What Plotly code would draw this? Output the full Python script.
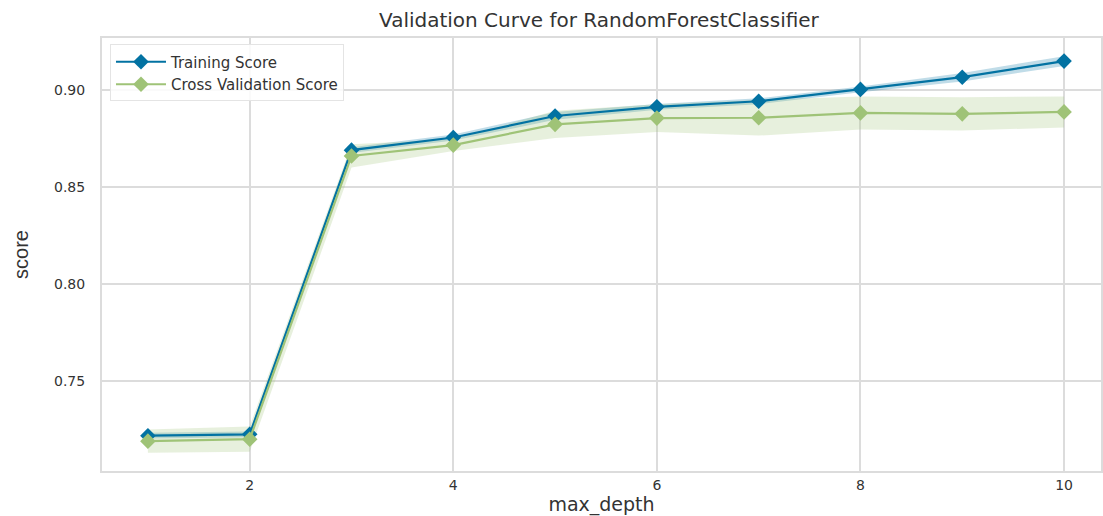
import plotly.graph_objects as go

max_depth = [1, 2, 3, 4, 5, 6, 7, 8, 9, 10]
train_mean = [0.7218, 0.7225, 0.8690, 0.8755, 0.8866, 0.8913, 0.8942, 0.9003, 0.9066, 0.9149]
train_std = [0.0015, 0.0015, 0.0015, 0.0015, 0.0020, 0.0015, 0.0015, 0.0015, 0.0022, 0.0025]
cv_mean = [0.7190, 0.7200, 0.8660, 0.8716, 0.8823, 0.8855, 0.8857, 0.8882, 0.8877, 0.8887]
cv_std = [0.0060, 0.0065, 0.0060, 0.0030, 0.0070, 0.0072, 0.0092, 0.0085, 0.0086, 0.0080]

BLUE = "#0272a2"
GREEN = "#9fc377"
GRID = "#dcdcdc"
TEXT = "#333333"
FONT = "DejaVu Sans, Liberation Sans, sans-serif"

fig = go.Figure()

def band(mean, std, color_rgba):
    upper = [m + s for m, s in zip(mean, std)]
    lower = [m - s for m, s in zip(mean, std)]
    return go.Scatter(
        x=max_depth + max_depth[::-1],
        y=upper + lower[::-1],
        fill="toself", fillcolor=color_rgba,
        line=dict(width=0), mode="lines",
        hoverinfo="skip", showlegend=False,
    )

fig.add_trace(band(train_mean, train_std, "rgba(2,114,162,0.25)"))
fig.add_trace(band(cv_mean, cv_std, "rgba(159,195,119,0.25)"))

fig.add_trace(go.Scatter(
    x=max_depth, y=train_mean, name="Training Score", mode="lines+markers",
    line=dict(color=BLUE, width=2.2),
    marker=dict(symbol="diamond", size=12, color=BLUE),
))
fig.add_trace(go.Scatter(
    x=max_depth, y=cv_mean, name="Cross Validation Score", mode="lines+markers",
    line=dict(color=GREEN, width=2.2),
    marker=dict(symbol="diamond", size=12, color=GREEN),
))

fig.update_layout(
    width=1103, height=516,
    margin=dict(l=102, r=0, t=38, b=45),
    paper_bgcolor="white", plot_bgcolor="white",
    font=dict(family=FONT, color=TEXT),
    showlegend=True,
    legend=dict(
        x=0.008, y=0.985, xanchor="left", yanchor="top",
        bgcolor="rgba(255,255,255,0.85)", bordercolor="#e4e4e4", borderwidth=1,
        font=dict(size=15, color=TEXT, family=FONT),
        tracegroupgap=0, itemwidth=50,
    ),
    annotations=[
        dict(text="Validation Curve for RandomForestClassifier",
             xref="paper", yref="paper", x=(600 - 102) / 1001, y=1.0,
             xanchor="center", yanchor="bottom", yshift=4,
             showarrow=False, font=dict(size=20, color=TEXT, family=FONT)),
    ],
)

fig.update_xaxes(
    range=[0.549, 10.363], tickvals=[2, 4, 6, 8, 10],
    showgrid=True, gridcolor=GRID, gridwidth=1.5,
    showline=True, linecolor=GRID, linewidth=2, mirror=True,
    zeroline=False, ticks="",
    tickfont=dict(size=14, color=TEXT, family=FONT),
    title=dict(text="max_depth", font=dict(size=19, color=TEXT, family=FONT), standoff=6),
)
fig.update_yaxes(
    range=[0.70361, 0.9268], tickvals=[0.75, 0.80, 0.85, 0.90], ticktext=["0.75", "0.80", "0.85", "0.90"],
    showgrid=True, gridcolor=GRID, gridwidth=1.5,
    showline=True, linecolor=GRID, linewidth=2, mirror=True,
    zeroline=False, ticks="", ticklabelstandoff=12,
    tickfont=dict(size=14, color=TEXT, family=FONT),
    title=dict(text="score", font=dict(size=20, color=TEXT,
               family="Liberation Sans, Arial, sans-serif"), standoff=20),
)

fig.write_html("out.html")
